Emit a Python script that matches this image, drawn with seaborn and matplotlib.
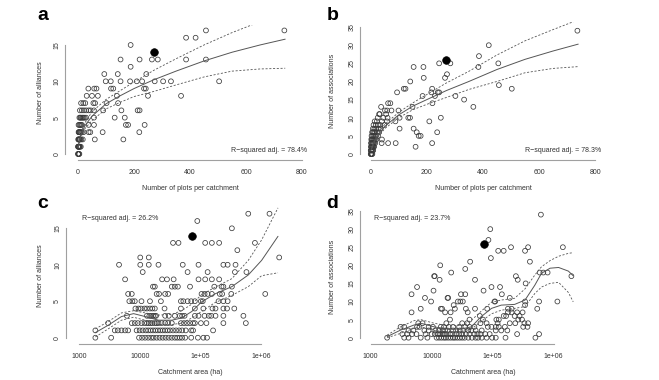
"""
Four-panel figure: richness of alliances / associations against sampling
effort (plots per catchment) and catchment area, with fitted curves.
"""

import matplotlib
matplotlib.use("Agg")
import matplotlib.pyplot as plt
from matplotlib.ticker import FixedLocator, FixedFormatter, NullLocator
import seaborn as sns
import pandas as pd
import numpy as np

# ---------------------------------------------------------------------------
# data
# list index = count (alliances / associations), entries = x values
# ---------------------------------------------------------------------------

# panel a: number of plots per catchment, grouped by number of alliances
a_plots_by_alliances = [
    [0, 1, 2, 3, 5],
    [0, 1, 2, 3, 4, 5, 7, 10],
    [1, 2, 3, 5, 6, 8, 12, 17, 60, 162],
    [2, 3, 5, 6, 8, 10, 14, 20, 38, 44, 88, 219],
    [2, 5, 8, 11, 14, 38, 57, 171, 179, 238],
    [5, 8, 10, 14, 17, 20, 24, 29, 57, 131, 167],
    [7, 14, 21, 29, 38, 45, 57, 90, 155, 213, 220],
    [11, 19, 26, 55, 61, 102, 143],
    [31, 50, 71, 139, 250, 368],
    [37, 58, 66, 118, 126, 236, 242],
    [99, 117, 152, 186, 210, 229, 274, 304, 332, 504],
    [94, 142, 244],
    [188],
    [152, 220, 264, 285, 386, 457],
    [],
    [188],
    [386, 420],
    [457, 737],
]

# panel b: number of plots per catchment, grouped by number of associations
b_plots_by_associations = [
    [0, 1, 2, 3, 4, 6],
    [0, 1, 2, 3, 5, 7, 9],
    [1, 2, 3, 5, 6, 8, 10, 12, 160],
    [1, 3, 5, 7, 9, 12, 16, 39, 62, 89, 219],
    [2, 4, 6, 9, 12, 15, 20, 40],
    [3, 6, 10, 14, 18, 26, 171, 178],
    [5, 8, 12, 16, 22, 30, 164, 237],
    [8, 13, 20, 28, 35, 103, 153],
    [10, 18, 26, 34, 48],
    [14, 22, 40, 58, 88, 209],
    [25, 45, 60, 103, 134, 140, 250],
    [30, 32, 55],
    [51, 59, 74, 99],
    [37, 149, 366],
    [62, 70, 220],
    [333],
    [185, 229, 302],
    [94, 216, 239, 244],
    [118, 124, 219, 503],
    [457],
    [141],
    [189, 265],
    [272],
    [],
    [153, 188, 384],
    [244, 284, 455],
    [],
    [386],
    [],
    [],
    [421],
    [],
    [],
    [],
    [737],
]

# panel c: log10 catchment area (ha), grouped by number of alliances
c_log_area_by_alliances = [
    [3.27, 3.53, 3.99, 4.04, 4.09, 4.14, 4.19, 4.23, 4.28, 4.33, 4.38, 4.43,
     4.48, 4.53, 4.58, 4.62, 4.66, 4.70, 4.75, 4.85, 4.96, 5.05, 5.11],
    [3.27, 3.59, 3.64, 3.70, 3.76, 3.81, 3.95, 4.00, 4.05, 4.10, 4.14, 4.18,
     4.22, 4.26, 4.30, 4.34, 4.38, 4.42, 4.46, 4.50, 4.55, 4.60, 4.65, 4.70,
     4.76, 4.85, 4.88, 5.21],
    [3.48, 3.87, 3.92, 3.97, 4.03, 4.08, 4.12, 4.15, 4.18, 4.21, 4.25, 4.28,
     4.31, 4.36, 4.42, 4.47, 4.53, 4.68, 4.73, 4.78, 4.83, 4.88, 4.91, 5.01,
     5.10, 5.38, 5.75],
    [3.79, 4.12, 4.16, 4.19, 4.22, 4.25, 4.27, 4.42, 4.48, 4.58, 4.66, 4.70,
     4.74, 4.91, 4.97, 5.07, 5.14, 5.18, 5.25, 5.38, 5.71],
    [3.93, 3.98, 4.02, 4.08, 4.12, 4.17, 4.21, 4.25, 4.41, 4.68, 4.91, 5.05,
     5.20, 5.25, 5.38, 5.44, 5.56],
    [3.83, 3.88, 3.92, 4.03, 4.17, 4.35, 4.68, 4.72, 4.79, 4.85, 4.91, 5.01,
     5.04, 5.30, 5.38, 5.45],
    [3.81, 3.87, 4.28, 4.32, 4.42, 4.47, 5.02, 5.07, 5.12, 5.19, 5.32, 5.36,
     5.51, 6.07],
    [4.22, 4.25, 4.53, 4.58, 4.63, 4.83, 5.23, 5.35, 5.38, 5.52],
    [3.76, 4.37, 4.45, 4.56, 4.97, 5.08, 5.19, 5.31],
    [4.05, 4.79, 5.12, 5.57, 5.76],
    [3.66, 4.01, 4.15, 4.31, 4.71, 4.97, 5.38, 5.45, 5.58],
    [4.01, 4.15, 6.30],
    [5.61],
    [4.55, 4.64, 5.08, 5.19, 5.31, 5.90],
    [],
    [5.52],
    [4.95],
    [5.79, 6.14],
]

# panel d: log10 catchment area (ha), grouped by number of associations
d_log_area_by_associations = [
    [3.27, 3.55, 3.62, 3.82, 3.93, 4.08, 4.12, 4.16, 4.20, 4.23, 4.27, 4.31,
     4.35, 4.38, 4.42, 4.46, 4.50, 4.54, 4.60, 4.66, 4.72, 4.76, 4.82, 4.90,
     4.99, 5.05, 5.21, 5.70],
    [3.52, 3.60, 3.68, 3.75, 3.90, 4.00, 4.05, 4.10, 4.14, 4.18, 4.20, 4.24,
     4.30, 4.34, 4.40, 4.45, 4.50, 4.56, 4.62, 4.70, 4.75, 4.80, 4.88, 4.95,
     5.40, 5.76],
    [3.62, 3.70, 3.88, 3.95, 4.06, 4.12, 4.18, 4.22, 4.26, 4.35, 4.40, 4.46,
     4.52, 4.60, 4.65, 4.72, 4.82, 5.05, 5.14, 5.24],
    [3.49, 3.55, 3.76, 3.80, 3.95, 4.02, 4.15, 4.20, 4.28, 4.35, 4.45, 4.55,
     4.62, 4.70, 4.92, 4.98, 5.05, 5.10, 5.20, 5.50, 5.57],
    [3.78, 3.85, 4.24, 4.50, 4.58, 4.80, 4.90, 5.08, 5.28, 5.37, 5.52, 5.58],
    [4.30, 4.62, 4.84, 5.06, 5.10, 5.42, 5.48],
    [4.79, 5.18, 5.22, 5.36, 5.44],
    [3.67, 4.22, 4.31, 4.59, 5.25, 5.31, 5.40, 5.49],
    [3.82, 4.15, 4.17, 4.38, 4.56, 4.71, 4.91, 5.25, 5.31, 5.73],
    [4.36, 5.53],
    [3.99, 4.43, 4.47, 4.51, 5.03, 5.04, 5.53, 5.76, 6.06],
    [3.89, 4.26, 4.27, 5.28],
    [3.67, 4.48, 4.55, 5.15],
    [4.03, 4.85],
    [3.76, 4.98, 5.12],
    [5.54],
    [4.13, 4.71, 5.41],
    [4.04, 4.05, 5.38, 6.29],
    [4.32, 5.77, 5.83, 5.90],
    [4.55],
    [4.14],
    [4.63, 5.61],
    [4.97],
    [],
    [5.09, 5.18, 5.53],
    [5.30, 5.58, 6.15],
    [],
    [4.93],
    [],
    [],
    [4.96],
    [],
    [],
    [],
    [5.79],
]

# highlighted catchment (filled point)
hl_plots = 270
hl_log_area = 4.86
hl_alliances = 14
hl_associations = 26

# fitted curves with confidence bands
ab_curve_plots = [2, 10, 25, 50, 100, 150, 200, 270, 350, 450, 550, 650, 740]
a_fit = [1.2, 2.6, 3.9, 5.2, 6.9, 8.0, 9.0, 10.2, 11.4, 12.8, 14.0, 15.0, 15.8]
a_upper = [1.4, 2.9, 4.3, 5.8, 7.5, 8.7, 9.9, 11.5, 13.1, 15.0, 16.7, 18.2, 19.5]
a_lower = [1.0, 2.3, 3.5, 4.6, 6.2, 7.1, 7.9, 8.6, 9.5, 10.6, 11.4, 11.7, 11.8]

b_fit = [1.2, 3.0, 5.0, 7.6, 10.8, 13.2, 15.0, 17.5, 20.0, 23.3, 26.1, 28.4, 30.3]
b_upper = [1.4, 3.3, 5.5, 8.2, 11.5, 14.1, 16.4, 19.6, 22.8, 27.3, 31.2, 34.3, 37.0]
b_lower = [1.0, 2.7, 4.6, 7.0, 10.0, 12.2, 13.7, 15.6, 17.8, 20.0, 22.4, 23.6, 24.1]

c_curve_log_area = [3.27, 3.48, 3.70, 3.90, 4.09, 4.31, 4.53, 4.69, 4.86,
                    5.02, 5.24, 5.52, 5.79, 6.01, 6.28]
c_fit = [0.7, 1.7, 2.9, 3.3, 2.9, 2.4, 2.4, 2.7, 3.6, 4.9, 6.0, 7.0, 8.6, 10.6, 13.9]
c_upper = [1.2, 2.2, 3.4, 3.7, 3.4, 3.1, 3.2, 3.7, 4.6, 5.9, 6.9, 8.1, 10.6, 13.4, 17.8]
c_lower = [0.1, 1.2, 2.4, 2.8, 2.4, 1.8, 1.8, 2.0, 2.7, 3.6, 4.8, 5.8, 7.0, 8.5, 8.9]

d_curve_log_area = [3.27, 3.49, 3.71, 3.82, 4.04, 4.26, 4.48, 4.65, 4.81, 4.98,
                    5.14, 5.36, 5.53, 5.69, 5.80, 5.94, 6.08, 6.24, 6.32]
d_fit = [0.3, 2.1, 3.5, 4.0, 3.0, 2.4, 2.4, 3.0, 5.8, 8.1, 9.0, 9.2, 10.4,
         14.5, 17.8, 19.2, 19.4, 18.4, 17.1]
d_upper = [0.7, 3.0, 4.7, 5.0, 4.0, 3.3, 3.4, 4.8, 7.3, 9.8, 10.4, 10.9, 13.5,
           17.3, 19.6, 21.3, 22.5, 23.3, 23.5]
d_lower = [0.0, 1.2, 2.6, 3.0, 2.0, 1.5, 1.6, 2.4, 4.5, 6.6, 7.6, 8.1, 8.6,
           12.2, 14.0, 15.0, 15.3, 12.5, 9.9]

r2_labels = ["78.4%", "78.3%", "26.2%", "23.7%"]
area_ticks = [1e3, 1e4, 1e5, 1e6]
area_tick_labels = ["1000", "10000", "1e+05", "1e+06"]

# ---------------------------------------------------------------------------
W, H = 659, 380
POINT_EDGE = "#3a3a3a"
LINE_COLOR = "#555555"
AXIS_COLOR = "#a0a0a0"
TEXT_COLOR = "#333333"
SMALL = 5

sns.set_style("white")
plt.rcParams["font.family"] = ["Liberation Sans", "DejaVu Sans"]


def counts_to_frame(by_count, log_x=False):
    xs, ys = [], []
    for count, values in enumerate(by_count):
        for v in values:
            xs.append(10 ** v if log_x else v)
            ys.append(count)
    return pd.DataFrame({"x": xs, "y": ys})


def px_axes(fig, left, top, right, bottom):
    return fig.add_axes([left / W, 1 - bottom / H, (right - left) / W, (bottom - top) / H])


def px_text(fig, x, y, s, **kw):
    kw.setdefault("color", TEXT_COLOR)
    kw.setdefault("fontsize", SMALL)
    return fig.text(x / W, 1 - y / H, s, **kw)


def draw_panel(ax, pts, curve_x, fit, lower, upper, hl_x, hl_y):
    sns.scatterplot(data=pts, x="x", y="y", ax=ax, marker="o", s=12,
                    facecolor="none", edgecolor=POINT_EDGE, linewidth=0.55,
                    zorder=3, legend=False)
    sns.scatterplot(x=[hl_x], y=[hl_y], ax=ax, marker="o", s=30,
                    color="black", edgecolor="black", linewidth=0.5,
                    zorder=4, legend=False)
    sns.lineplot(x=curve_x, y=fit, ax=ax, color=LINE_COLOR, linewidth=0.7,
                 sort=False, estimator=None, zorder=5)
    for band in (lower, upper):
        sns.lineplot(x=curve_x, y=band, ax=ax, color=LINE_COLOR, linewidth=0.6,
                     linestyle=(0, (2.5, 2)), sort=False, estimator=None, zorder=5)
    ax.set_xlabel("")
    ax.set_ylabel("")
    for side in ("top", "right"):
        ax.spines[side].set_visible(False)
    for side in ("left", "bottom"):
        ax.spines[side].set_color(AXIS_COLOR)
        ax.spines[side].set_linewidth(0.8)
    ax.tick_params(axis="both", length=2.3, width=0.7, color=AXIS_COLOR,
                   labelsize=SMALL, labelcolor=TEXT_COLOR)
    ax.tick_params(axis="x", pad=4)
    ax.tick_params(axis="y", pad=1)


def finish_y(ax, ticks):
    ax.set_yticks(ticks)
    ax.spines["left"].set_bounds(ticks[0], ticks[-1])
    for t in ax.get_yticklabels():
        t.set_rotation(90)
        t.set_va("center")


fig = plt.figure(figsize=(W / 100, H / 100), dpi=100)

# --- a -----------------------------------------------------------------------
ax_a = px_axes(fig, 65, 25, 315, 160)
draw_panel(ax_a, counts_to_frame(a_plots_by_alliances), ab_curve_plots,
           a_fit, a_lower, a_upper, hl_plots, hl_alliances)
ax_a.set_xlim(-46.4, 846.4)
ax_a.set_ylim(-0.83, 17.75)
ax_a.set_xticks([0, 200, 400, 600, 800])
ax_a.spines["bottom"].set_bounds(0, 800)
finish_y(ax_a, [0, 5, 10, 15])

# --- b -----------------------------------------------------------------------
ax_b = px_axes(fig, 360, 22, 606, 160)
draw_panel(ax_b, counts_to_frame(b_plots_by_associations), ab_curve_plots,
           b_fit, b_lower, b_upper, hl_plots, hl_associations)
ax_b.set_xlim(-38.2, 839)
ax_b.set_ylim(-1.65, 36.4)
ax_b.set_xticks([0, 200, 400, 600, 800])
ax_b.spines["bottom"].set_bounds(0, 800)
finish_y(ax_b, [0, 5, 10, 15, 20, 25, 30, 35])

# --- c -----------------------------------------------------------------------
ax_c = px_axes(fig, 65.7, 207, 315, 344)
ax_c.set_xscale("log")
draw_panel(ax_c, counts_to_frame(c_log_area_by_alliances, log_x=True),
           10 ** np.array(c_curve_log_area), c_fit, c_lower, c_upper,
           10 ** hl_log_area, hl_alliances)
ax_c.set_xlim(10 ** 2.781, 10 ** 6.89)
ax_c.set_ylim(-0.864, 17.92)
finish_y(ax_c, [0, 5, 10, 15])

# --- d -----------------------------------------------------------------------
ax_d = px_axes(fig, 360, 205, 606, 344)
ax_d.set_xscale("log")
draw_panel(ax_d, counts_to_frame(d_log_area_by_associations, log_x=True),
           10 ** np.array(d_curve_log_area), d_fit, d_lower, d_upper,
           10 ** hl_log_area, hl_associations)
ax_d.set_xlim(10 ** 2.825, 10 ** 6.857)
ax_d.set_ylim(-1.74, 36.66)
finish_y(ax_d, [0, 5, 10, 15, 20, 25, 30, 35])

for ax in (ax_c, ax_d):
    ax.xaxis.set_major_locator(FixedLocator(area_ticks))
    ax.xaxis.set_major_formatter(FixedFormatter(area_tick_labels))
    ax.xaxis.set_minor_locator(NullLocator())
    ax.spines["bottom"].set_bounds(area_ticks[0], area_ticks[-1])

# --- texts -------------------------------------------------------------------
for letter, (x, y) in zip("abcd", [(37, 20.5), (327, 20.5), (37, 208), (326, 208)]):
    px_text(fig, x, y, letter, fontsize=14, fontweight="bold", color="black",
            ha="left", va="baseline")

px_text(fig, 190, 189, "Number of plots per catchment", ha="center", va="center")
px_text(fig, 483, 189, "Number of plots per catchment", ha="center", va="center")
px_text(fig, 190, 372.7, "Catchment area (ha)", ha="center", va="center")
px_text(fig, 483, 372.7, "Catchment area (ha)", ha="center", va="center")

px_text(fig, 40, 92.5, "Number of alliances", rotation=90, ha="center", va="center")
px_text(fig, 333, 91, "Number of associations", rotation=90, ha="center", va="center")
px_text(fig, 40, 275.5, "Number of alliances", rotation=90, ha="center", va="center")
px_text(fig, 333, 276.5, "Number of associations", rotation=90, ha="center", va="center")

r2 = "R\u2212squared adj. = {}"
px_text(fig, 307, 151, r2.format(r2_labels[0]), ha="right", va="center")
px_text(fig, 601, 151, r2.format(r2_labels[1]), ha="right", va="center")
px_text(fig, 82, 219, r2.format(r2_labels[2]), ha="left", va="center")
px_text(fig, 374, 218, r2.format(r2_labels[3]), ha="left", va="center")

fig.savefig("out.png", dpi=100, facecolor="white")
